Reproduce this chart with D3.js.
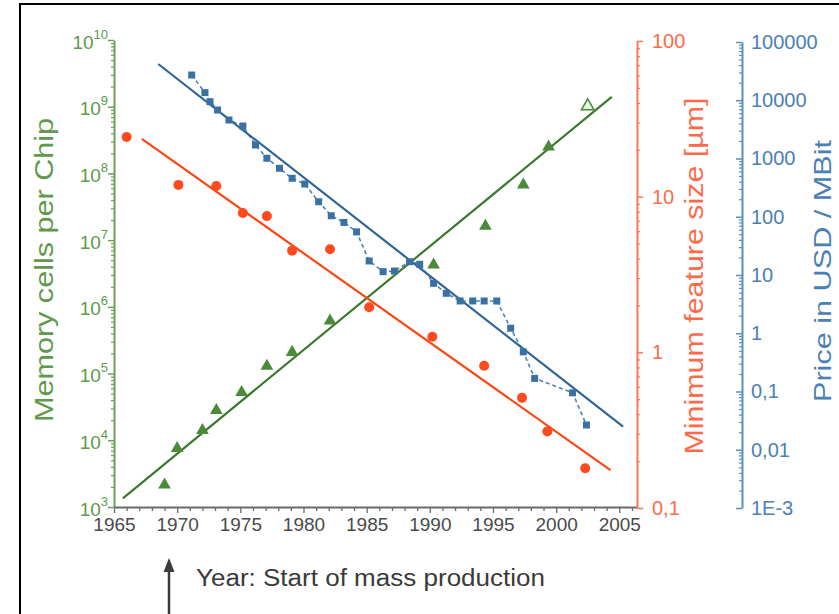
<!DOCTYPE html>
<html>
<head>
<meta charset="utf-8">
<script src="https://cdn.jsdelivr.net/npm/d3@7"></script>
<style>
  html, body { margin: 0; padding: 0; background: #fff; }
  svg { display: block; font-family: "Liberation Sans", Arial, Helvetica, sans-serif; }
</style>
</head>
<body>
<svg id="chart" width="839" height="614"></svg>
<script>
// ---------------- DATA ----------------
// Memory cells per chip (green triangles)
const memYears  = [1969.0, 1970.0, 1972.0, 1973.1, 1975.1, 1977.1, 1979.1, 1982.1, 1990.3, 1994.4, 1997.4, 1999.4, 2002.5];
const memCells  = [2150, 7600, 14100, 28200, 52500, 129000, 209000, 617000, 4.27e6, 1.62e7, 6.76e7, 2.5e8, 1.02e9];
const memOpen   = [false, false, false, false, false, false, false, false, false, false, false, false, true];
const memFitYears = [1965.7, 2004.4];
const memFitVals  = [1350, 1.4e9];

// Minimum feature size in µm (red circles)
const featYears = [1966.0, 1970.1, 1973.1, 1975.2, 1977.1, 1979.1, 1982.1, 1985.2, 1990.2, 1994.3, 1997.3, 1999.3, 2002.3];
const featSize  = [24.2, 11.9, 11.7, 7.85, 7.5, 4.5, 4.6, 1.95, 1.26, 0.82, 0.51, 0.31, 0.18];
const featFitYears = [1967.2, 2004.3];
const featFitVals  = [23.5, 0.175];

// Price in USD / MBit (blue squares)
const priceYears = [1971.15, 1972.2, 1972.6, 1973.2, 1974.1, 1975.2, 1976.2, 1977.1, 1978.1, 1979.1, 1980.1, 1981.2, 1982.2, 1983.2, 1984.2, 1985.2,
                    1986.3, 1987.2, 1988.4, 1989.2, 1990.3, 1991.3, 1992.4, 1993.4, 1994.3, 1995.3, 1996.4, 1997.4, 1998.3, 2001.3, 2002.4];
const priceVals  = [27100, 13500, 9440, 6800, 4580, 3610, 1710, 1010, 679, 457, 365, 181, 104, 80, 55, 17.4,
                    11.4, 11.7, 16.9, 15.3, 7.2, 4.85, 3.58, 3.58, 3.58, 3.58, 1.22, 0.48, 0.168, 0.095, 0.0266];
const priceFitYears = [1968.5, 2005.3];
const priceFitVals  = [41900, 0.0249];

// Tick labels
const yearTicks  = [1965, 1970, 1975, 1980, 1985, 1990, 1995, 2000, 2005];
const memTickExp = [3, 4, 5, 6, 7, 8, 9, 10];
const featTicks  = [0.1, 1, 10, 100];
const featLabels = ["0,1", "1", "10", "100"];
const priceTicks = [1e-3, 1e-2, 1e-1, 1, 10, 100, 1000, 10000, 100000];
const priceLabels = ["1E-3", "0,01", "0,1", "1", "10", "100", "1000", "10000", "100000"];

// Titles
const titleMem = "Memory cells per Chip";
const titleFeat = "Minimum feature size [µm]";
const titlePrice = "Price in USD / MBit";
const titleX = "Year: Start of mass production";

// ---------------- STYLE ----------------
const C = {
  greenLine: "#3b7a2c", greenMark: "#4b8a3a", greenAxis: "#6e9f58", greenText: "#5f9a4c",
  redLine: "#ff4512", redMark: "#ff4a1e", redAxis: "#ff7558", redText: "#ff6a48",
  blueLine: "#2f6696", blueMark: "#3b70a2", blueDash: "#4a82b8", blueAxis: "#5b8fc0", blueText: "#4b80b4",
  grey: "#6a6a6a", text: "#4a4a4a"
};
const FONT = "Liberation Sans, Arial, sans-serif";

const svg = d3.select("#chart");

// Frame
svg.append("rect").attr("x", 20).attr("y", 4).attr("width", 900).attr("height", 700)
  .attr("fill", "none").attr("stroke", "#000").attr("stroke-width", 2);

// ---------------- SCALES ----------------
const x = d3.scaleLinear().domain([1965, 2006.4]).range([114, 637]);
const yMem = d3.scaleLog().domain([1e3, 1e10]).range([507, 40]);
const yFeat = d3.scaleLog().domain([0.1, 100]).range([508, 41]);
const yPrice = d3.scaleLog().domain([1e-3, 1e5]).range([508, 42]);

function minorLog(lo, hi) {
  const out = [];
  for (let e = Math.round(Math.log10(lo)); e < Math.round(Math.log10(hi)); e++) {
    for (let m = 2; m <= 9; m++) out.push(m * Math.pow(10, e));
  }
  return out;
}

// ---------------- AXES ----------------
// X axis
const allYears = d3.range(1965, 2007);
const gx = svg.append("g").attr("transform", "translate(0,507)");
gx.call(d3.axisBottom(x).tickValues(allYears.filter(y => !yearTicks.includes(y))).tickSize(4).tickFormat(""))
  .call(g => g.select(".domain").remove());
gx.selectAll(".tick line").attr("stroke", C.grey).attr("stroke-width", 1.3);
const gx2 = svg.append("g").attr("transform", "translate(0,507)");
gx2.call(d3.axisBottom(x).tickValues(yearTicks).tickSize(6).tickSizeOuter(0).tickPadding(5).tickFormat(d3.format("d")));
gx2.select(".domain").attr("stroke", C.grey).attr("stroke-width", 2.2);
gx2.selectAll(".tick line").attr("stroke", C.grey).attr("stroke-width", 1.3);
gx2.selectAll(".tick text").attr("fill", C.text).attr("font-size", 19).attr("font-family", FONT);

// Green (left) axis
const gm = svg.append("g").attr("transform", "translate(114,0)");
gm.call(d3.axisLeft(yMem).tickValues(minorLog(1e3, 1e10)).tickSize(3).tickFormat(""))
  .call(g => g.select(".domain").remove());
gm.selectAll(".tick line").attr("stroke", C.greenAxis).attr("stroke-width", 1.2);
const gm2 = svg.append("g").attr("transform", "translate(114,0)");
gm2.call(d3.axisLeft(yMem).tickValues(memTickExp.map(e => Math.pow(10, e))).tickSize(6).tickSizeOuter(0).tickFormat(""));
gm2.select(".domain").attr("stroke", C.greenAxis).attr("stroke-width", 2);
gm2.selectAll(".tick line").attr("stroke", C.greenAxis).attr("stroke-width", 1.5);
gm2.selectAll(".tick").each(function(d) {
  const t = d3.select(this).append("text").attr("x", -6).attr("y", 8)
    .attr("text-anchor", "end").attr("fill", C.greenText).attr("font-size", 19)
    .attr("font-family", FONT);
  t.append("tspan").text("10");
  t.append("tspan").attr("dy", -10).attr("font-size", 13).text(String(Math.round(Math.log10(d))));
});

// Red axis
const gf = svg.append("g").attr("transform", "translate(637,0)");
gf.call(d3.axisRight(yFeat).tickValues(minorLog(0.1, 100)).tickSize(3).tickFormat(""))
  .call(g => g.select(".domain").remove());
gf.selectAll(".tick line").attr("stroke", C.redAxis).attr("stroke-width", 1.2);
const gf2 = svg.append("g").attr("transform", "translate(637,0)");
gf2.call(d3.axisRight(yFeat).tickValues(featTicks).tickSize(6).tickSizeOuter(0).tickPadding(9)
  .tickFormat((d, i) => featLabels[i]));
gf2.select(".domain").attr("stroke", C.redAxis).attr("stroke-width", 2);
gf2.selectAll(".tick line").attr("stroke", C.redAxis).attr("stroke-width", 1.5);
gf2.selectAll(".tick text").attr("fill", C.redText).attr("font-size", 20).attr("font-family", FONT);

// Blue axis
const gp = svg.append("g").attr("transform", "translate(742,0)");
gp.call(d3.axisRight(yPrice).tickValues(minorLog(1e-3, 1e5)).tickSize(-3).tickFormat(""))
  .call(g => g.select(".domain").remove());
gp.selectAll(".tick line").attr("stroke", C.blueAxis).attr("stroke-width", 1.2);
const gp2 = svg.append("g").attr("transform", "translate(742,0)");
gp2.call(d3.axisRight(yPrice).tickValues(priceTicks).tickSize(-6).tickSizeOuter(0).tickPadding(9)
  .tickFormat((d, i) => priceLabels[i]));
gp2.select(".domain").attr("stroke", C.blueAxis).attr("stroke-width", 2);
gp2.selectAll(".tick line").attr("stroke", C.blueAxis).attr("stroke-width", 1.5);
gp2.selectAll(".tick text").attr("fill", C.blueText).attr("font-size", 20).attr("font-family", FONT);

// ---------------- TITLES ----------------
function vTitle(txt, cx, cy, len, color, size) {
  svg.append("text").attr("transform", `translate(${cx},${cy}) rotate(-90)`)
    .attr("text-anchor", "middle").attr("dy", "0.35em")
    .attr("fill", color).attr("font-size", size)
    .attr("textLength", len).attr("lengthAdjust", "spacingAndGlyphs")
    .text(txt);
}
vTitle(titleMem, 44, 270, 304, C.greenText, 25);
vTitle(titleFeat, 694, 276, 357, C.redText, 25);
vTitle(titlePrice, 823, 271, 262, C.blueText, 24);

svg.append("text").attr("x", 196).attr("y", 586).attr("fill", "#3a3a3a").attr("font-size", 23)
  .attr("textLength", 349).attr("lengthAdjust", "spacingAndGlyphs").text(titleX);

// Arrow
svg.append("line").attr("x1", 169).attr("x2", 169).attr("y1", 614).attr("y2", 570)
  .attr("stroke", "#3a3a3a").attr("stroke-width", 2.5);
svg.append("path").attr("d", "M169,558 L163.5,572 L174.5,572 Z").attr("fill", "#3a3a3a");

// ---------------- LINES & MARKS ----------------
const line = (xs, ys, yScale) => d3.line()(xs.map((v, i) => [x(v), yScale(ys[i])]));

// Blue dashed connection
svg.append("path").attr("d", line(priceYears, priceVals, yPrice))
  .attr("fill", "none").attr("stroke", C.blueDash).attr("stroke-width", 1.6).attr("stroke-dasharray", "4,3");

// Fit lines
svg.append("path").attr("d", line(memFitYears, memFitVals, yMem))
  .attr("fill", "none").attr("stroke", C.greenLine).attr("stroke-width", 2.2);
svg.append("path").attr("d", line(featFitYears, featFitVals, yFeat))
  .attr("fill", "none").attr("stroke", C.redLine).attr("stroke-width", 2.2);
svg.append("path").attr("d", line(priceFitYears, priceFitVals, yPrice))
  .attr("fill", "none").attr("stroke", C.blueLine).attr("stroke-width", 2.2);

// Blue squares
svg.append("g").selectAll("rect").data(priceYears).join("rect")
  .attr("x", d => x(d) - 3.5).attr("y", (d, i) => yPrice(priceVals[i]) - 3.5)
  .attr("width", 7).attr("height", 7).attr("fill", C.blueMark);

// Red circles
svg.append("g").selectAll("circle").data(featYears).join("circle")
  .attr("cx", d => x(d)).attr("cy", (d, i) => yFeat(featSize[i])).attr("r", 5)
  .attr("fill", C.redMark);

// Green triangles
const tri = d3.symbol().type(d3.symbolTriangle).size(70);
svg.append("g").selectAll("path").data(memYears).join("path")
  .attr("d", tri)
  .attr("transform", (d, i) => `translate(${x(d)},${yMem(memCells[i])})`)
  .attr("fill", (d, i) => memOpen[i] ? "#e8f2e0" : C.greenMark)
  .attr("stroke", C.greenMark).attr("stroke-width", (d, i) => memOpen[i] ? 1.5 : 0);
</script>
</body>
</html>
